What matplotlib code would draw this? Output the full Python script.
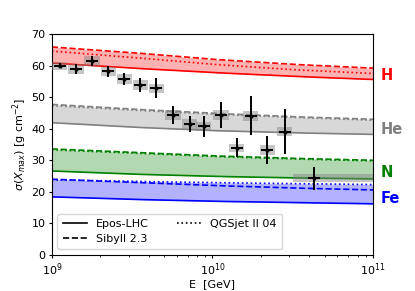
import numpy as np
import matplotlib
matplotlib.use("Agg")
import matplotlib.pyplot as plt
from matplotlib.patches import Rectangle
from matplotlib.lines import Line2D

# model curves, read at lg(E/GeV) = 9, 9.5, 10, 10.5, 11
lgE_model = [9.0, 9.5, 10.0, 10.5, 11.0]
H_epos = [60.8, 59.2, 57.8, 56.6, 55.6]
H_sib = [65.9, 64.1, 62.0, 60.4, 59.2]
H_qgs = [64.6, 62.6, 60.4, 58.7, 57.5]
He_epos = [41.9, 40.5, 39.4, 38.7, 38.2]
He_sib = [47.7, 46.2, 44.9, 43.8, 43.0]
He_qgs = [47.3, 45.9, 44.6, 43.6, 42.7]
N_epos = [26.6, 25.6, 24.9, 24.4, 24.1]
N_sib = [33.6, 32.5, 31.4, 30.6, 30.0]
N_qgs = [33.3, 32.3, 31.2, 30.4, 29.8]
Fe_epos = [18.4, 17.6, 17.0, 16.6, 16.2]
Fe_sib = [24.0, 23.0, 22.0, 21.2, 20.6]
Fe_qgs = [23.8, 23.3, 22.9, 22.6, 22.3]

# data points
lgE = [9.05, 9.15, 9.25, 9.35, 9.45, 9.55, 9.65, 9.754, 9.857, 9.945,
       10.053, 10.152, 10.238, 10.34, 10.449, 10.63]
sig = [59.9, 58.9, 61.5, 58.2, 55.7, 53.8, 52.8, 44.4, 41.5, 40.7,
       44.4, 34.0, 44.1, 33.2, 39.1, 24.3]
stat = [0.8, 1.6, 1.6, 1.7, 2.0, 2.3, 3.2, 2.9, 2.5, 3.2,
        4.1, 3.0, 6.2, 4.5, 7.2, 3.7]
sys_lo = [1.2, 1.5, 1.5, 1.5, 1.5, 1.5, 1.5, 1.5, 1.5, 1.5,
          1.5, 1.3, 1.5, 1.5, 1.5, 1.2]

species = [
    ("H", "red", H_epos, H_sib, H_qgs, 57.0),
    ("He", "gray", He_epos, He_sib, He_qgs, 39.7),
    ("N", "green", N_epos, N_sib, N_qgs, 26.0),
    ("Fe", "blue", Fe_epos, Fe_sib, Fe_qgs, 17.8),
]

fig = plt.figure(figsize=(4.15, 2.91), dpi=100)
ax = fig.add_axes([0.125, 0.124, 0.774, 0.759])

E_fine = np.linspace(9, 11, 200)
x_fine = 10 ** E_fine
for name, col, epos, sib, qgs, ylab in species:
    e = np.interp(E_fine, lgE_model, epos)
    s = np.interp(E_fine, lgE_model, sib)
    q = np.interp(E_fine, lgE_model, qgs)
    lo = np.minimum(np.minimum(e, s), q)
    hi = np.maximum(np.maximum(e, s), q)
    ax.fill_between(x_fine, lo, hi, color=col, alpha=0.3, lw=0)
    ax.plot(x_fine, e, color=col, ls="-", lw=1.2)
    ax.plot(x_fine, s, color=col, ls="--", lw=1.2)
    ax.plot(x_fine, q, color=col, ls=":", lw=1.2)
    ax.text(1.024, ylab, name, transform=ax.get_yaxis_transform(), color=col,
            fontsize=10.5, fontweight="bold", va="center", ha="left")

# systematic boxes
for i in range(len(lgE)):
    if i == len(lgE) - 1:
        x0, x1 = 10 ** 10.503, 10 ** 11
    else:
        x0, x1 = 10 ** (lgE[i] - 0.047), 10 ** (lgE[i] + 0.047)
    ax.add_patch(Rectangle((x0, sig[i] - sys_lo[i]), x1 - x0, 2 * sys_lo[i],
                           color="gray", alpha=0.45, lw=0, zorder=3))

xv = 10 ** np.array(lgE)
xl = xv - 10 ** (np.array(lgE) - 0.037)
xh = 10 ** (np.array(lgE) + 0.037) - xv
ax.errorbar(xv, sig, yerr=stat, xerr=[xl, xh], fmt="o", ms=2, color="black",
            elinewidth=1.4, capsize=0, zorder=4)

ax.set_xscale("log")
ax.set_xlim(1e9, 1e11)
ax.set_ylim(0, 70)
ax.set_yticks(range(0, 71, 10))
ax.tick_params(labelsize=8, length=2.5, pad=2)
ax.tick_params(which="minor", length=1.5)
ax.set_xlabel("E  [GeV]", fontsize=8, labelpad=1)
ax.set_ylabel(r"$\sigma(X_{max})$ [g cm$^{-2}$]", fontsize=8, labelpad=2)

handles = [Line2D([], [], color="black", ls="-", lw=1.2),
           Line2D([], [], color="black", ls="--", lw=1.2),
           Line2D([], [], color="black", ls=":", lw=1.2)]
ax.legend(handles, ["Epos-LHC", "Sibyll 2.3", "QGSjet II 04"], ncol=2,
          loc="lower left", fontsize=8, handlelength=2.2, columnspacing=2.5,
          borderpad=0.5, labelspacing=0.4)

fig.savefig("out.png", dpi=100)
